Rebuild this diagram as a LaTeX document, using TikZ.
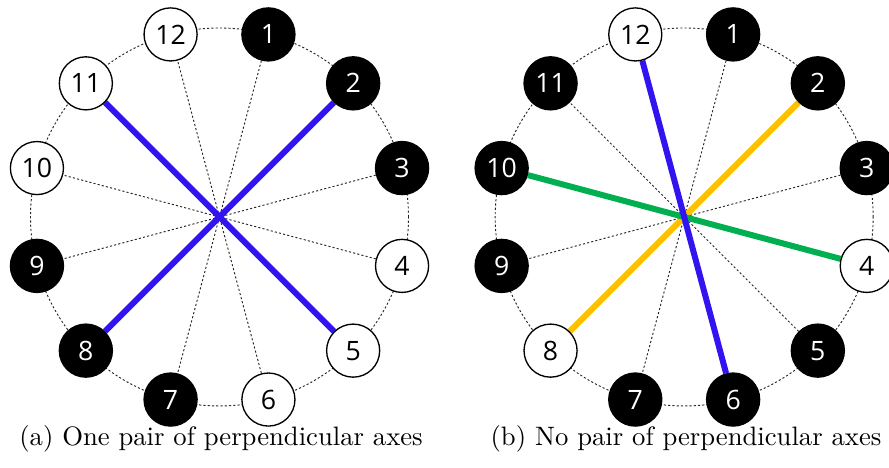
\documentclass[tikz,border=0pt]{standalone}
\usepackage{fontspec}
\newfontfamily\numfont{Open Sans}
\usetikzlibrary{backgrounds}
\definecolor{axblue}{RGB}{50,20,240}
\definecolor{axgreen}{RGB}{0,176,80}
\definecolor{axgold}{RGB}{255,192,0}
\begin{document}
\begin{tikzpicture}[x=0.375pt,y=0.375pt,
  pt/.style={circle, draw=black, line width=0.5pt, minimum size=19.9pt, inner sep=0pt,
             font=\numfont\fontsize{10}{12}\selectfont},
  wpt/.style={pt, fill=white, text=black},
  bpt/.style={pt, fill=black, text=white},
  rim/.style={line width=0.35pt, dash pattern=on 0.8pt off 0.8pt, draw=black!85},
  axis/.style={line width=2.25pt, line cap=butt},
  capt/.style={font=\fontsize{10}{12}\selectfont, anchor=base, inner sep=0pt}]
\useasboundingbox (0,0) rectangle (889,468);
% left figure
\begin{scope}[shift={(219.5,251)}]
  \foreach \k/\s in {1/bpt,2/bpt,3/bpt,4/wpt,5/wpt,6/wpt,7/bpt,8/bpt,9/bpt,10/wpt,11/wpt,12/wpt}{
    \pgfmathsetmacro\ang{105-30*\k}
    \node[\s] (a\k) at (\ang:189) {\k};
  }
  \begin{scope}[on background layer]
    \draw[rim] (0,0) circle (189);
    \draw[rim] (a1) -- (a7);
    \draw[rim] (a3) -- (a9);
    \draw[rim] (a4) -- (a10);
    \draw[rim] (a6) -- (a12);
    \draw[axis, axblue] (a2) -- (a8);
    \draw[axis, axblue] (a5) -- (a11);
  \end{scope}
\end{scope}
% right figure
\begin{scope}[shift={(684.2,251)}]
  \foreach \k/\s in {1/bpt,2/bpt,3/bpt,4/wpt,5/bpt,6/bpt,7/bpt,8/wpt,9/bpt,10/bpt,11/bpt,12/wpt}{
    \pgfmathsetmacro\ang{105-30*\k}
    \node[\s] (b\k) at (\ang:189) {\k};
  }
  \begin{scope}[on background layer]
    \draw[rim] (0,0) circle (189);
    \draw[rim] (b1) -- (b7);
    \draw[rim] (b3) -- (b9);
    \draw[rim] (b5) -- (b11);
    \draw[axis, axgold] (b2) -- (b8);
    \draw[axis, axgreen] (b4) -- (b10);
    \draw[axis, axblue] (b6) -- (b12);
  \end{scope}
\end{scope}
\node[capt] (capa) at (221,22) {(a) One pair of perpendicular axes};
\node[capt] (capb) at (686,22) {(b) No pair of perpendicular axes};
\end{tikzpicture}
\end{document}
